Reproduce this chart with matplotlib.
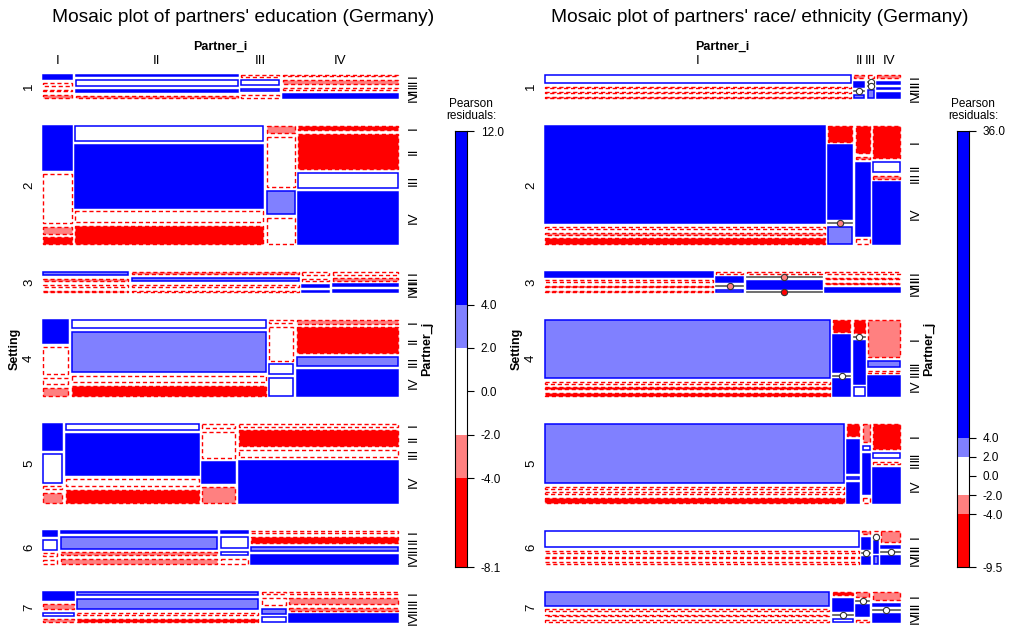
import matplotlib.pyplot as plt
from matplotlib.patches import Rectangle
import numpy as np

plt.rcParams['font.family'] = ['Liberation Sans', 'DejaVu Sans']

W_PX, H_PX = 1014, 627

setting_labels = ['1', '2', '3', '4', '5', '6', '7']
partner_levels = ['I', 'II', 'III', 'IV']
# share of each setting (rows of the mosaic), in percent
setting_share = [3.9, 35.7, 2.9, 21.3, 22.7, 7.2, 6.2]

# --- education: Partner_i shares per setting, Partner_j shares per cell, residuals
edu_cols = [[29, 162, 38, 115],
            [29, 188, 28, 100],
            [85, 166, 27, 65],
            [25, 194, 24, 101],
            [19, 133, 33, 159],
            [14, 156, 27, 146],
            [31, 181, 24, 109]]
edu_rows = [[[4, 3, 1.5, 3], [1.5, 6, 2, 2.5], [1.5, 5, 2, 3], [1.5, 4.5, 2, 5]],
            [[44, 49, 7, 7], [15, 62, 11, 18], [7, 50, 23, 26], [4, 35, 15, 52]],
            [[3, 2.5, 2, 2], [2, 3, 2, 2], [2, 2, 1.5, 1.5], [2, 2, 1.5, 2.5]],
            [[21, 26, 6, 7], [7, 39, 6, 9], [2.5, 32, 9, 17], [3, 24, 9, 24]],
            [[27, 29, 3, 10], [6, 41, 7, 13], [4, 26, 21, 16], [3, 16, 7, 42]],
            [[5, 10, 3, 4], [2, 12, 3, 5], [2, 11, 3, 5], [2, 6, 4, 9]],
            [[9, 6, 3, 3], [3, 11, 3, 3], [2, 8, 5, 5], [2, 8, 3, 9]]]
edu_resid = [[[6, -1, -1, -3], [5, 1, 5, -3], [-1, 1, 3, -1], [-1, -3, -1, 6]],
             [[6, -1, -3, -6], [1, 6, -1, -6], [-3, -1, 3, -1], [-6, -6, 1, 6]],
             [[3, -3, -1, -3], [-3, 3, -1, -1], [-1, -1, 5, 5], [-1, -3, 5, 6]],
             [[6, -1, -1, -3], [1, 3, -1, -6], [-1, -1, 1, 1], [-3, -6, 3, 6]],
             [[6, 1, -1, -3], [1, 6, -1, -6], [-1, -1, 6, -3], [-1, -6, -1, 6]],
             [[6, 1, -1, -1], [5, 3, -3, -3], [5, 1, 1, -1], [-1, -6, 3, 6]],
             [[6, -3, 1, -3], [3, 3, -1, -6], [-1, -1, 3, 1], [-1, -3, -3, 6]]]
edu_range = [-8.1, 12.0]

# --- race / ethnicity
race_cols = [[309, 10, 6, 23],
             [281, 24, 14, 27],
             [168, 27, 75, 75],
             [286, 17, 11, 32],
             [302, 12, 7, 27],
             [315, 8, 4, 19],
             [284, 20, 13, 27]]
race_rows = [[[9, 1, 1, 1.5], [2.5, 5, 0, 3], [2, 0, 0, 5], [3, 1.5, 1, 5]],
             [[98, 2, 2, 6], [15, 72, 0, 17], [27, 2, 73, 5], [32, 10, 3, 62]],
             [[5, 2, 1.5, 2], [1, 4, 0, 2], [1, 0, 6, 0], [1.5, 1.5, 1, 5]],
             [[57, 2, 1.5, 3], [11, 36, 0, 16], [12, 0, 41, 8], [36, 6, 2, 19]],
             [[61, 2, 2, 5], [13, 34, 2, 21], [19, 4, 42, 5], [26, 5, 2, 36]],
             [[18, 2, 2, 2], [3, 11, 0, 7], [2, 0, 9, 6], [11, 2, 0, 8]],
             [[15, 2, 1.5, 2], [3, 11, 0, 3], [5, 0, 11, 2], [8, 2, 0, 8]]]
race_resid = [[[1, -1, -1, -3], [-3, 6, -1, 3], [-1, -1, -1, 3], [-3, 6, 6, 6]],
              [[6, -1, -3, -6], [-6, 6, -3, 3], [-6, -3, 6, -1], [-6, 1, -3, 6]],
              [[6, -1, -6, -3], [-1, 6, -3, 3], [-1, -3, 6, -6], [-1, -3, -6, 6]],
              [[3, -1, -6, -6], [-6, 6, -1, 6], [-6, -1, 6, 1], [-3, 3, -1, 6]],
              [[3, -1, -1, -6], [-6, 6, 3, 6], [-3, 1, 6, -1], [-6, 1, -1, 6]],
              [[1, -1, -1, -1], [-3, 6, -1, 6], [-1, -1, 6, 3], [-3, 6, -1, 6]],
              [[3, -1, -1, -1], [-6, 6, -1, 1], [-3, -1, 6, -1], [-3, 6, -1, 6]]]
race_range = [-9.5, 36.0]

cuts = [-4, -2, 2, 4]
band_colors = ['#FF0000', '#FF8080', '#FFFFFF', '#8080FF', '#0000FF']

SET_GAP, COL_GAP, J_GAP = 28, 3.5, 3.8
DASH = (0, (3, 2))


def tile_style(r):
    if r > 4:
        fill = '#0000FF'
    elif r > 2:
        fill = '#8080FF'
    elif r > -2:
        fill = 'white'
    elif r > -4:
        fill = '#FF8080'
    else:
        fill = '#FF0000'
    if r >= 0:
        return fill, '#0000FF', '-', 1.1
    return fill, '#FF0000', DASH, 1.0


def mosaic(fig, left, cols, rows, resid):
    top, width, height = 75, 355, 547
    ax = fig.add_axes([left / W_PX, 1 - (top + height) / H_PX,
                       width / W_PX, height / H_PX])
    ax.set_xlim(0, width)
    ax.set_ylim(height, 0)
    ax.axis('off')

    content = height - 6 * SET_GAP - 7 * 3 * J_GAP
    share = np.array(setting_share) / sum(setting_share) * content
    avail = width - 3 * COL_GAP
    y = 0
    for s in range(7):
        hs = share[s]
        w = np.array(cols[s]) / sum(cols[s]) * avail
        x = 0
        for i in range(4):
            h = np.array(rows[s][i], dtype=float) / sum(rows[s][i]) * hs
            yy = y
            for j in range(4):
                fill, edge, ls, lw = tile_style(resid[s][i][j])
                if h[j] == 0:
                    ax.plot([x, x + w[i]], [yy, yy], color='#555555', lw=1.2,
                            clip_on=False)
                    ax.plot(x + w[i] / 2, yy, 'o', ms=4.5, mfc=fill,
                            mec='#333333', mew=0.8, clip_on=False, zorder=5)
                    mid = yy
                else:
                    ax.add_patch(Rectangle((x, yy), w[i], h[j], facecolor=fill,
                                           edgecolor=edge, linestyle=ls,
                                           lw=lw, clip_on=False))
                    mid = yy + h[j] / 2
                if i == 3:
                    ax.text(width + 16, mid, partner_levels[j], rotation=90,
                            ha='center', va='center', fontsize=9.5)
                yy += h[j] + J_GAP
            if s == 0:
                ax.text(x + w[i] / 2, -14, partner_levels[i], ha='center',
                        va='center', fontsize=9.5)
            x += w[i] + COL_GAP
        ax.text(-14, y + (hs + 3 * J_GAP) / 2, setting_labels[s], rotation=90,
                ha='center', va='center', fontsize=9.5)
        y += hs + 3 * J_GAP + SET_GAP

    ax.text(width / 2, -28, 'Partner_i', ha='center', va='center',
            fontsize=9, fontweight='bold')
    ax.text(-28, height / 2, 'Setting', rotation=90, ha='center', va='center',
            fontsize=9, fontweight='bold')
    ax.text(width + 29, height / 2, 'Partner_j', rotation=90, ha='center',
            va='center', fontsize=9, fontweight='bold')
    return ax


def legend_bar(fig, left, vrange):
    top, bottom = 131, 567
    cax = fig.add_axes([left / W_PX, 1 - bottom / H_PX, 12 / W_PX,
                        (bottom - top) / H_PX])
    lo, hi = vrange
    bounds = [lo] + cuts + [hi]
    for k in range(5):
        cax.axhspan(bounds[k], bounds[k + 1], color=band_colors[k], lw=0)
    cax.set_ylim(lo, hi)
    cax.set_xlim(0, 1)
    cax.set_xticks([])
    ticks = [lo, -4, -2, 0, 2, 4, hi]
    cax.yaxis.tick_right()
    cax.set_yticks(ticks)
    cax.set_yticklabels(['%.1f' % t for t in ticks], fontsize=8.5)
    cax.tick_params(axis='y', length=5, width=0.8, pad=5)
    for sp in cax.spines.values():
        sp.set_linewidth(0.8)
    fig.text((left + 16) / W_PX, 1 - 110 / H_PX, 'Pearson\nresiduals:',
             ha='center', va='center', fontsize=8.5, linespacing=1.0)


fig = plt.figure(figsize=(W_PX / 100, H_PX / 100), dpi=100)

mosaic(fig, 43, edu_cols, edu_rows, edu_resid)
legend_bar(fig, 455, edu_range)
fig.text(243 / W_PX, 1 - 18 / H_PX, "Mosaic plot of partners' education (Germany)",
         ha='center', va='center', fontsize=13.8)

mosaic(fig, 545, race_cols, race_rows, race_resid)
legend_bar(fig, 957, race_range)
fig.text(760 / W_PX, 1 - 18 / H_PX,
         "Mosaic plot of partners' race/ ethnicity (Germany)",
         ha='center', va='center', fontsize=13.8)

fig.savefig('out.png', dpi=100)
